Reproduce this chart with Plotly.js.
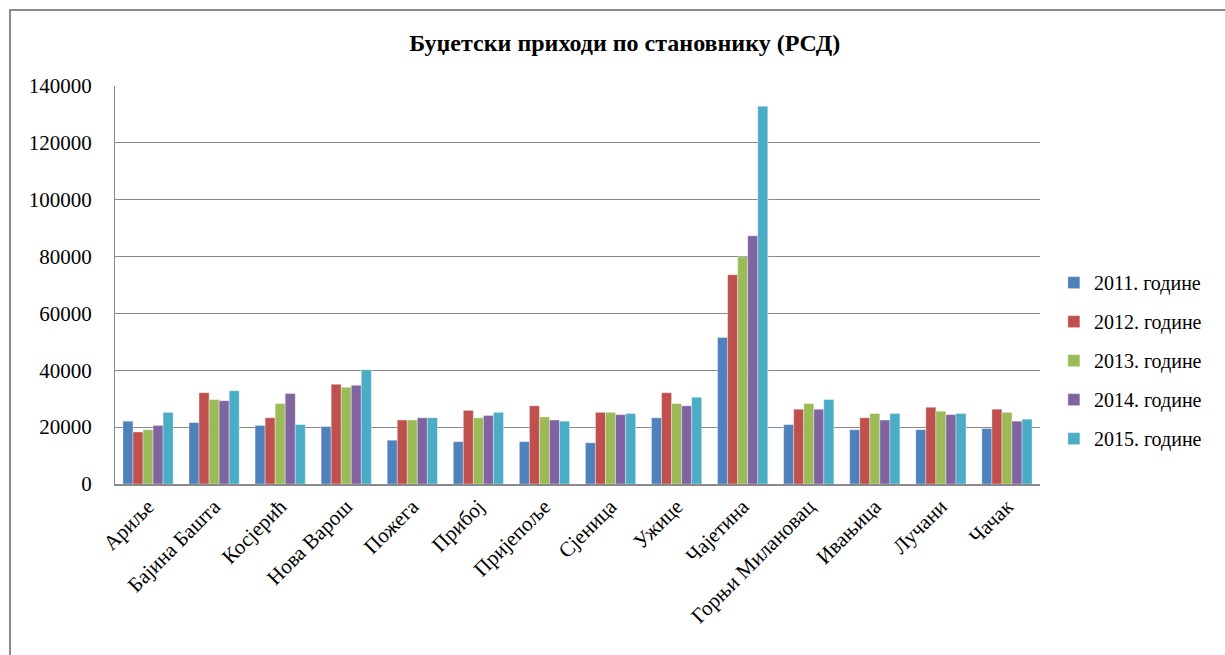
<!DOCTYPE html>
<html>
<head>
<meta charset="utf-8">
<script src="https://cdn.plot.ly/plotly-3.0.1.min.js"></script>
<style>
body{margin:0;background:#fff;}
#wrap{position:relative;width:1225px;height:655px;}
#chart{position:absolute;left:0;top:0;width:1225px;height:655px;}
.bt{position:absolute;left:9px;top:9px;width:1216px;height:2px;background:#8a8a8a;}
.bl{position:absolute;left:9px;top:9px;width:2px;height:646px;background:#8a8a8a;}
</style>
</head>
<body>
<div id="wrap"><div id="chart"></div><div class="bt"></div><div class="bl"></div></div>
<script>
const municipalities = ["Ариље","Бајина Башта","Косјерић","Нова Варош","Пожега","Прибој","Пријепоље","Сјеница","Ужице","Чајетина","Горњи Милановац","Ивањица","Лучани","Чачак"];
const seriesNames = ["2011. године","2012. године","2013. године","2014. године","2015. године"];
const y2011 = [22100,21600,20600,20200,15400,14900,14900,14500,23300,51500,20900,19100,19100,19500];
const y2012 = [18300,32100,23300,35100,22500,25900,27500,25200,32100,73600,26300,23300,27000,26300];
const y2013 = [19100,29700,28300,34000,22500,23300,23600,25200,28300,79900,28300,24800,25600,25200];
const y2014 = [20600,29300,31800,34700,23300,24100,22500,24400,27500,87300,26300,22500,24400,22100];
const y2015 = [25200,32800,20900,40200,23300,25200,22100,24800,30500,132900,29700,24800,24800,22800];
const seriesValues = [y2011,y2012,y2013,y2014,y2015];
const colors = ["#4F81BD","#C0504D","#9BBB59","#8064A2","#4BACC6"];

const traces = seriesNames.map((n,i)=>({
  type:'bar', name:n, x:municipalities, y:seriesValues[i],
  legendgroup:'g'+i,
  marker:{color:colors[i], line:{color:'rgba(255,255,255,0.6)', width:0.6}},
  hoverinfo:'x+y+name'
}));

const serif = 'Liberation Serif, Times New Roman, serif';
const layout = {
  width:1225, height:655,
  margin:{l:115, r:185, t:86, b:171, autoexpand:false},
  paper_bgcolor:'#fff', plot_bgcolor:'#fff',
  title:{text:'<b>Буџетски приходи по становнику (РСД)</b>', x:0.51, xref:'container', y:0.935, yref:'container', yanchor:'middle', font:{family:serif, size:24, color:'#000'}},
  barmode:'group', bargap:0.24, bargroupgap:0,
  xaxis:{showline:true, linecolor:'#8a8a8a', linewidth:2, ticks:'', tickangle:-45, tickfont:{family:serif, size:21, color:'#000'}, showgrid:false, fixedrange:true},
  yaxis:{range:[0,140000], dtick:20000, showgrid:true, gridcolor:'#8a8a8a', gridwidth:1, showline:true, linecolor:'#8a8a8a', linewidth:1, ticks:'', ticklabelstandoff:18, tickfont:{family:serif, size:21, color:'#000'}, zeroline:false, tickformat:'d'},
  showlegend:true,
  legend:{x:1.015, xanchor:'left', y:0.31, yanchor:'middle', font:{family:serif, size:20, color:'#000'}, tracegroupgap:10, itemwidth:30, bgcolor:'rgba(0,0,0,0)'}
};
Plotly.newPlot('chart', traces, layout, {displayModeBar:false, staticPlot:true});
</script>
</body>
</html>
